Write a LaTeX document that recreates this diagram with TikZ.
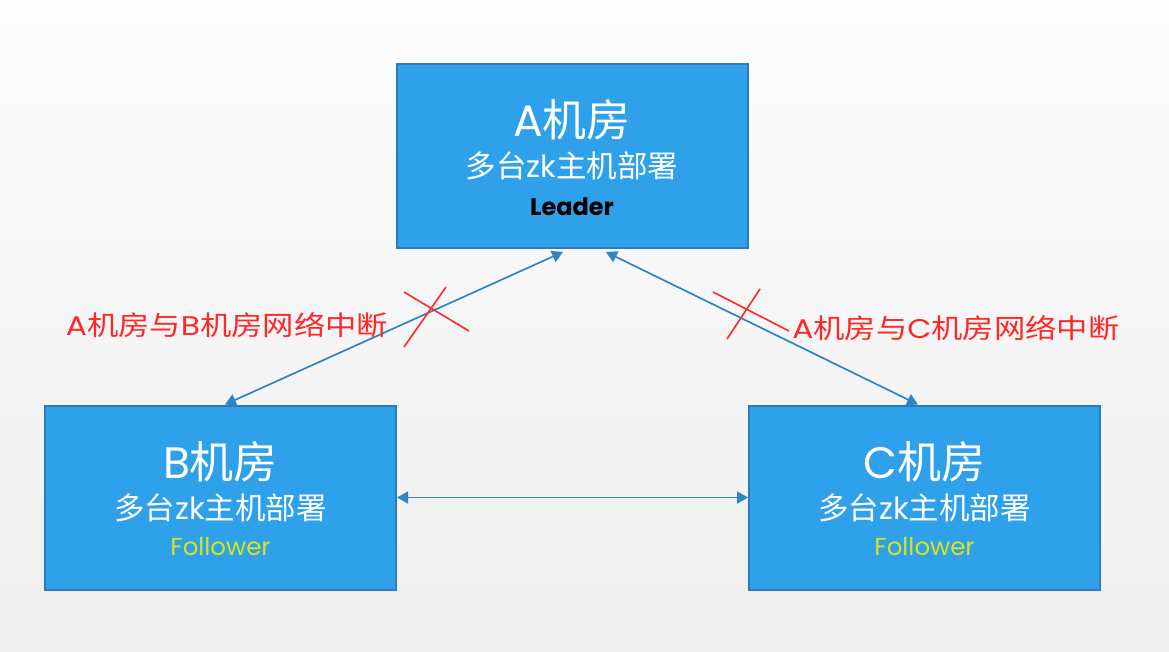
\documentclass[tikz,border=0pt]{standalone}
\usepackage{fontspec}
\newfontfamily\cjk{Noto Sans CJK SC}
\newfontfamily\geo{Poppins}
\usetikzlibrary{arrows.meta}
\definecolor{boxfill}{RGB}{46,161,234}
\definecolor{boxline}{RGB}{44,124,184}
\definecolor{linkcol}{RGB}{46,134,193}
\definecolor{xred}{RGB}{255,40,40}
\definecolor{follow}{RGB}{214,228,30}
\definecolor{bgtop}{RGB}{253,253,253}
\definecolor{bgbot}{RGB}{238,238,238}
\tikzset{
  room/.style={draw=boxline, line width=2pt, fill=boxfill, minimum width=351pt, minimum height=184pt, inner sep=0pt},
  title/.style={text=white, font=\fontsize{44}{48}\selectfont, inner sep=0pt},
  sub/.style={text=white, font=\fontsize{30.5}{34}\selectfont, inner sep=0pt},
  role/.style={font=\geo\fontsize{24.5}{28}\selectfont, inner sep=0pt},
  link/.style={draw=linkcol, line width=1.7pt, {Triangle[length=11pt,width=12pt]}-{Triangle[length=11pt,width=12pt]}},
  cross/.style={draw=xred, line width=1.6pt},
  redlab/.style={text=xred, font=\cjk\fontsize{27}{30}\selectfont, inner sep=0pt}
}
\newcommand{\subtxt}{{\cjk 多台}{\geo zk}{\cjk 主机部署}}
\begin{document}
\begin{tikzpicture}[x=1pt,y=-1pt]
\shade[top color=bgtop, bottom color=bgbot] (0,0) rectangle (1169,652);
\useasboundingbox (0,0) rectangle (1169,652);
% boxes
\node[room] (A) at (572,156) {};
\node[room] (B) at (220.5,497.5) {};
\node[room] (C) at (924.5,497.5) {};
% texts A
\node[title] (At) at ([yshift=36pt]A.center) {{\geo A}{\cjk 机房}};
\node[sub] (As) at ([yshift=-10pt]A.center) {\subtxt};
\node[role, text=black, font=\geo\bfseries\fontsize{24}{28}\selectfont] (Ar) at ([yshift=-51pt]A.center) {Leader};
% texts B
\node[title] (Bt) at ([yshift=36pt]B.center) {{\geo B}{\cjk 机房}};
\node[sub] (Bs) at ([yshift=-10pt]B.center) {\subtxt};
\node[role, text=follow] (Br) at ([yshift=-49pt]B.center) {Follower};
% texts C
\node[title] (Ct) at ([yshift=36pt]C.center) {{\geo C}{\cjk 机房}};
\node[sub] (Cs) at ([yshift=-10pt]C.center) {\subtxt};
\node[role, text=follow] (Cr) at ([yshift=-49pt]C.center) {Follower};
% links
\draw[link] ([xshift=-9pt,yshift=-3pt]A.south) -- ([xshift=4.5pt]B.north);
\draw[link] ([xshift=34pt,yshift=-3pt]A.south) -- ([xshift=-6.5pt]C.north);
\draw[link] (B.east) -- (C.west);
% crosses
\draw[cross] (404,292) -- (469,331);
\draw[cross] (446,287) -- (404,347);
\draw[cross] (713,292) -- (789,331);
\draw[cross] (760,289) -- (727,339);
% red labels
\node[redlab] (labAB) at (227,325) {\scalebox{1.16}[1]{{\geo A}机房与{\geo B}机房网络中断}};
\node[redlab] (labAC) at (956,328) {\scalebox{1.16}[1]{{\geo A}机房与{\geo C}机房网络中断}};
\end{tikzpicture}
\end{document}
